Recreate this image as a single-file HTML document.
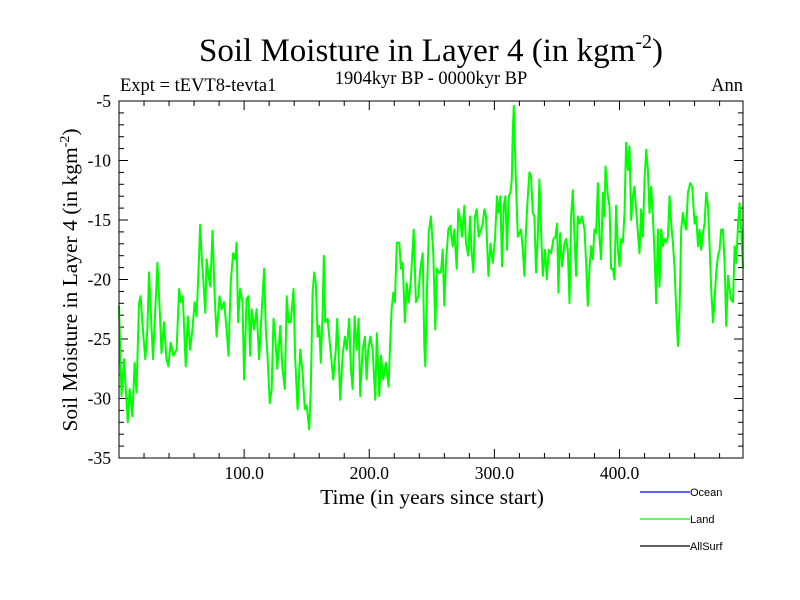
<!DOCTYPE html>
<html><head><meta charset="utf-8"><style>
body{margin:0;background:#fff;}
svg{display:block;}
text{font-family:"Liberation Serif",serif;fill:#000;}
</style></head><body>
<svg id="chart" width="800" height="600">
<text x="431" y="61" text-anchor="middle" font-size="33">Soil Moisture in Layer 4 (in kgm<tspan dy="-13" font-size="20">-2</tspan><tspan dy="13">)</tspan></text>
<text x="120" y="91" font-size="18.5">Expt = tEVT8-tevta1</text>
<text x="431" y="84" text-anchor="middle" font-size="18.5">1904kyr BP - 0000kyr BP</text>
<text x="743" y="91" text-anchor="end" font-size="18.5">Ann</text>
<text transform="translate(77,280) rotate(-90)" text-anchor="middle" font-size="21.5">Soil Moisture in Layer 4 (in kgm<tspan dy="-8" font-size="14">-2</tspan><tspan dy="8">)</tspan></text>
<text x="432" y="504" text-anchor="middle" font-size="21.5">Time (in years since start)</text>
<g id="ticks"></g>
<g id="series"></g>
<rect x="119" y="101" width="624" height="357" fill="none" stroke="#000" stroke-width="1"/>
<g>
<line x1="640" y1="492" x2="690" y2="492" stroke="#0000ff" stroke-width="1.2"/>
<text x="690" y="496" font-size="11" style="font-family:'Liberation Sans',sans-serif">Ocean</text>
<line x1="640" y1="519" x2="690" y2="519" stroke="#00ff00" stroke-width="1.2"/>
<text x="690" y="523" font-size="11" style="font-family:'Liberation Sans',sans-serif">Land</text>
<line x1="640" y1="546" x2="690" y2="546" stroke="#000" stroke-width="1.2"/>
<text x="690" y="550" font-size="11" style="font-family:'Liberation Sans',sans-serif">AllSurf</text>
</g>
</svg>
<script>
const years=[0,2,4,7,8.5,10.7,12.5,14,16,17.3,19.5,21,22.7,24,25.3,27.2,28.5,30.7,32.5,34,36,38,39.5,41.3,43.5,46,48,49.3,51,53.3,55,56.8,58.7,60.5,62,64,64.8,66.4,67.5,69,70,71.5,73,74.7,76.5,78,80.3,82,84,86,87.5,89.3,91.2,92.8,94,95.2,96.8,98.7,100,102,103.5,104.8,106,108,110,112,114,116,117.3,118.7,120.5,122,123.5,124.8,126.5,128.8,130.7,132.5,134,135.5,137.3,139.5,140.8,142.7,144.8,146.7,148.5,150,152,153.3,154.7,156,157.3,158.7,160,161.3,162.7,163.7,164.8,166.7,169.3,171.2,173.3,174.4,175.5,176.8,178.7,180.5,182,184,185.3,186.7,188.3,190,191.5,192.8,194.7,196.5,197.9,199.2,200.8,202.7,204.8,206,208,209.3,211.2,213.3,215.5,216.5,217.9,219.2,220.5,222,224,225.3,226.7,228.5,229.9,231.5,233.3,235.5,237.3,239.2,240.8,242.7,244,244.8,246.1,247.5,249.3,251.2,252.8,254.1,255.5,257.3,258.7,260,261.3,263.2,264.8,266.7,268,269.9,271.2,272.8,274.1,276,277.3,279.2,280.5,281.9,283.2,284.5,285.9,287.5,289.3,290.7,292,293.3,295.2,296.8,298.7,300.5,302.1,303.2,304.8,306.1,307.5,308.8,310.1,311.5,312.8,313.9,314.7,315.5,316.5,317.6,318.7,320,321.3,322.7,324,325.3,326.7,328,329.3,330.7,332,333.3,334.7,336,337.3,338.7,340.5,341.9,343.5,345.3,347.2,348.8,350.1,351.2,352.5,354.1,356,357.3,358.7,360,361.3,362.7,364,365.3,366.7,368,370.1,372,373.3,374.7,376,377.3,378.7,380,381.3,382.7,384,385.3,386.7,388,388.8,390.7,392,393.3,394.7,396,397.3,398.7,400,401.3,402.7,404,405.3,406.7,408,409.3,410.7,412,413.3,414.7,416,417.3,418.7,420,421.3,422.7,424,425.3,426.7,428,429.3,430.7,432,433.3,434.7,436,437.3,438.7,440,441.3,442.7,444,445.3,446.7,448,449.3,450.7,452,453.3,454.7,456.5,458.1,460,461.3,462.7,464,465.3,466.7,468,469.3,470.7,472,473.3,474.7,476,477.3,478.7,480,481.3,482.7,484,485.3,486.7,488,489.3,490.7,492,493.3,494.7,496,497.3,498.7];
const landValues=[-22.2,-29.8,-26.7,-32.0,-29.2,-31.5,-27.0,-29.5,-22,-21.4,-24.8,-26.7,-24.2,-19.4,-22.5,-26.7,-23.6,-18.6,-22.5,-26.2,-23.6,-26.7,-27.3,-25.3,-26.4,-25.9,-20.8,-21.9,-21.4,-27.3,-23.1,-25.9,-24.2,-21.9,-23.1,-18.0,-15.4,-18.6,-20.3,-22.8,-18.3,-19.7,-20.6,-15.9,-21.4,-24.8,-21.4,-22.5,-21.9,-24.2,-26.4,-20.3,-17.8,-18.3,-16.9,-23.6,-20.8,-21.9,-28.4,-21.6,-21.4,-26.4,-22.5,-24.2,-22.5,-26.7,-22.8,-19.1,-24.2,-26.4,-30.4,-29.2,-23.3,-24.8,-27.5,-23.9,-27.5,-29.2,-21.4,-23.6,-23.6,-20.8,-26.7,-30.9,-25.9,-27.8,-30.9,-30.6,-32.6,-29.2,-21.1,-19.4,-20.3,-24.8,-23.9,-27.0,-22.8,-18.0,-23.6,-23.3,-26.2,-28.4,-25.9,-23.3,-26.4,-30.1,-26.4,-24.8,-25.9,-23.3,-27.5,-29.2,-23.1,-25.9,-23.3,-29.8,-25.9,-24.8,-28.4,-25.9,-24.8,-25.9,-30.1,-24.5,-29.8,-26.4,-28.4,-27.0,-29.0,-25.9,-22.5,-21.1,-21.9,-16.9,-16.9,-19.1,-18.6,-23.6,-20.3,-21.9,-20.0,-15.8,-21.9,-21.4,-19.1,-17.8,-25.6,-27.3,-21.4,-16.1,-14.7,-17.8,-24.2,-19.1,-19.4,-19.4,-17.5,-22.2,-18.6,-15.8,-15.5,-17.2,-15.8,-19.1,-14.1,-15.0,-16.4,-13.8,-17.0,-18.0,-14.7,-17.8,-19.4,-14.7,-14.1,-16.4,-15.8,-15.3,-14.1,-14.7,-19.7,-17.0,-18.6,-16.6,-13.0,-14.4,-13.0,-18.9,-13.8,-13.0,-17.5,-13.0,-12.7,-11.6,-7.4,-5.4,-9.1,-13.0,-16.4,-16.1,-15.8,-17.5,-19.7,-15.8,-13.0,-11.0,-11.3,-14.4,-14.7,-19.4,-16.4,-11.6,-15.8,-19.7,-17.5,-20.0,-17.5,-17.8,-16.6,-16.4,-15.3,-21.1,-16.1,-18.9,-17.0,-16.6,-17.5,-22.0,-14.7,-12.5,-16.4,-19.7,-14.7,-15.3,-14.7,-15.8,-18.6,-22.2,-19.1,-17.2,-18.3,-15.8,-16.1,-11.9,-16.6,-18.3,-12.7,-14.7,-10.5,-13.0,-13.8,-19.1,-19.1,-20.0,-13.8,-17.5,-18.9,-16.6,-16.9,-14.4,-8.5,-10.8,-8.8,-15.0,-13.0,-12.2,-14.1,-16.1,-17.8,-14.1,-16.4,-11.6,-9.1,-10.8,-14.4,-12.2,-14.7,-17.8,-22.0,-15.8,-20.6,-15.8,-17.2,-16.6,-16.9,-16.4,-13.0,-15.3,-16.9,-19.1,-22.5,-25.6,-22.5,-15.8,-14.4,-15.3,-15.8,-12.7,-11.9,-12.2,-15.3,-14.7,-17.2,-15.8,-17.5,-16.1,-15.3,-12.7,-13.8,-17.2,-20.8,-23.6,-21.7,-19.4,-18.0,-17.5,-15.8,-15.8,-18.6,-23.9,-19.7,-20.8,-21.7,-21.9,-17.2,-18.6,-15.5,-13.6,-15.8,-19.1];
const xTickValues=[100,200,300,400];
const xTickLabels=["100.0","200.0","300.0","400.0"];
const yTickValues=[-5,-10,-15,-20,-25,-30,-35];
const yTickLabels=["-5","-10","-15","-20","-25","-30","-35"];

const X0=119,X1=743,Y0=101,Y1=458,xmin=0,xmax=498.7,ymin=-35,ymax=-5;
function sx(v){return X0+(v-xmin)/(xmax-xmin)*(X1-X0);}
function sy(v){return Y1-(v-ymin)/(ymax-ymin)*(Y1-Y0);}
const NS="http://www.w3.org/2000/svg";
const tg=document.getElementById('ticks');
function ln(x1,y1,x2,y2,name){const l=document.createElementNS(NS,'line');l.setAttribute('x1',x1);l.setAttribute('y1',y1);l.setAttribute('x2',x2);l.setAttribute('y2',y2);l.setAttribute('stroke','#000');l.setAttribute('stroke-width','1');


tg.appendChild(l);}
function tx(x,y,s,anchor,name){const t=document.createElementNS(NS,'text');t.setAttribute('x',x);t.setAttribute('y',y);t.setAttribute('text-anchor',anchor);t.setAttribute('font-size','17.5');t.textContent=s;


tg.appendChild(t);}
for(let v=20;v<xmax;v+=20){const x=sx(v);const major=v%100===0;const L=major?9:5;ln(x,Y1,x,Y1-L,'x-tick');ln(x,Y0,x,Y0+L,'x-tick-top');}
xTickValues.forEach((v,i)=>tx(sx(v),479,xTickLabels[i],'middle','x-tick-label'));
for(let v=ymin+1;v<ymax;v+=1){const y=sy(v);const major=v%5===0;const L=major?9:5;ln(X0,y,X0+L,y,'y-tick');ln(X1,y,X1-L,y,'y-tick-right');}
yTickValues.forEach((v,i)=>tx(111,sy(v)+6,yTickLabels[i],'end','y-tick-label'));
const p=document.createElementNS(NS,'path');
p.setAttribute('d',years.map((y,i)=>(i?'L':'M')+sx(y).toFixed(1)+','+sy(landValues[i]).toFixed(1)).join(''));
p.setAttribute('fill','none');p.setAttribute('stroke','#00ff00');p.setAttribute('stroke-width','2');p.setAttribute('stroke-linejoin','round');


document.getElementById('series').appendChild(p);
</script>
</body></html>
